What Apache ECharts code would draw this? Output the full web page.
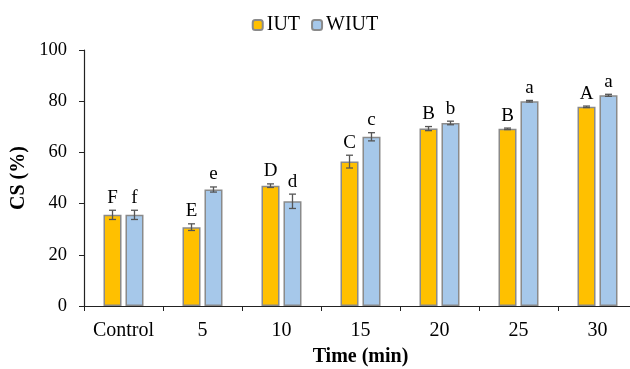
<!DOCTYPE html>
<html>
<head>
<meta charset="utf-8">
<script src="https://cdn.jsdelivr.net/npm/echarts@6/dist/echarts.min.js"></script>
<style>html,body{margin:0;padding:0;background:#fff;}#chart{width:630px;height:369px;}</style>
</head>
<body>
<div id="chart"></div>
<script>
var categories = ['Control', '5', '10', '15', '20', '25', '30'];
var iutValues = [35.6, 30.8, 47.0, 56.4, 69.3, 69.2, 77.8];
var wiutValues = [35.6, 45.5, 40.9, 66.1, 71.5, 80.0, 82.3];
var iutErrors = [1.8, 1.3, 0.7, 2.5, 0.8, 0.3, 0.3];
var wiutErrors = [1.8, 1.0, 2.8, 1.6, 0.7, 0.3, 0.4];
var iutLetters = ['F', 'E', 'D', 'C', 'B', 'B', 'A'];
var wiutLetters = ['f', 'e', 'd', 'c', 'b', 'a', 'a'];
var yTicks = [0, 20, 40, 60, 80, 100];

var SERIF = '"Liberation Serif", "Times New Roman", serif';
var BAR_FRAC = 0.228, GAP_FRAC = 0.22;

function errData(vals, errs, letters) {
  return vals.map(function (v, i) { return [i, v, errs[i], letters[i]]; });
}

function makeRender(letters, sign) {
  return function (params, api) {
    var i = api.value(0), v = api.value(1), e = api.value(2);
    var band = api.size([1, 0])[0];
    var barW = band * BAR_FRAC;
    var off = sign * (barW + barW * GAP_FRAC) / 2;
    var c = api.coord([i, v]);
    var x = c[0] + off;
    var yTop = api.coord([i, v + e])[1];
    var yBot = api.coord([i, v - e])[1];
    var cap = 3.5;
    var st = { stroke: '#555', lineWidth: 1.3 };
    return {
      type: 'group',
      children: [
        { type: 'line', shape: { x1: x, y1: yTop, x2: x, y2: yBot }, style: st },
        { type: 'line', shape: { x1: x - cap, y1: yTop, x2: x + cap, y2: yTop }, style: st },
        { type: 'line', shape: { x1: x - cap, y1: yBot, x2: x + cap, y2: yBot }, style: st },
        { type: 'text', style: { text: letters[i], x: x, y: yTop - 3, align: 'center', verticalAlign: 'bottom', font: '19px ' + SERIF, fill: '#000' } }
      ]
    };
  };
}

var chart = echarts.init(document.getElementById('chart'));
chart.setOption({
  animation: false,
  backgroundColor: '#fff',
  legend: {
    top: 10,
    left: 'center',
    itemWidth: 10,
    itemHeight: 10,
    itemGap: 11,
    data: ['IUT', 'WIUT'],
    textStyle: { fontFamily: SERIF, fontSize: 20, color: '#000', padding: [0, 0, 0, -1] }
  },
  grid: { left: 84, top: 50, width: 553, height: 256, containLabel: false, outerBoundsMode: 'none' },
  xAxis: {
    type: 'category',
    data: categories,
    name: 'Time (min)',
    nameLocation: 'middle',
    nameGap: 41,
    nameTextStyle: { fontFamily: SERIF, fontSize: 20, fontWeight: 'bold', color: '#000' },
    axisLine: { lineStyle: { color: '#222', width: 1.2 } },
    axisTick: { show: true, interval: 0, length: 5, lineStyle: { color: '#222' } },
    axisLabel: { interval: 0, hideOverlap: false, margin: 15, fontFamily: SERIF, fontSize: 20, color: '#000' }
  },
  yAxis: {
    type: 'value',
    min: 0,
    max: 100,
    interval: 20,
    name: 'CS (%)',
    nameLocation: 'middle',
    nameGap: 49,
    nameTextStyle: { fontFamily: SERIF, fontSize: 20, fontWeight: 'bold', color: '#000' },
    splitLine: { show: false },
    axisLine: { show: true, lineStyle: { color: '#222', width: 1.2 } },
    axisTick: { show: true, length: 5, lineStyle: { color: '#222' } },
    axisLabel: {
      margin: 17, fontFamily: SERIF, fontSize: 18.5, color: '#000',
      formatter: function (v) { return yTicks.indexOf(v) >= 0 ? String(v) : ''; }
    }
  },
  series: [
    {
      name: 'IUT', type: 'bar', data: iutValues,
      barWidth: (BAR_FRAC * 100) + '%', barGap: (GAP_FRAC * 100) + '%',
      itemStyle: { color: '#FFC000', borderColor: '#8a8a8a', borderWidth: 1.5 }
    },
    {
      name: 'WIUT', type: 'bar', data: wiutValues,
      barWidth: (BAR_FRAC * 100) + '%', barGap: (GAP_FRAC * 100) + '%',
      itemStyle: { color: '#A6C8EA', borderColor: '#8a8a8a', borderWidth: 1.5 }
    },
    {
      type: 'custom', name: 'IUT err', data: errData(iutValues, iutErrors, iutLetters),
      encode: { x: 0, y: 1 }, z: 10, silent: true,
      renderItem: makeRender(iutLetters, -1)
    },
    {
      type: 'custom', name: 'WIUT err', data: errData(wiutValues, wiutErrors, wiutLetters),
      encode: { x: 0, y: 1 }, z: 10, silent: true,
      renderItem: makeRender(wiutLetters, 1)
    }
  ]
});
</script>
</body>
</html>
